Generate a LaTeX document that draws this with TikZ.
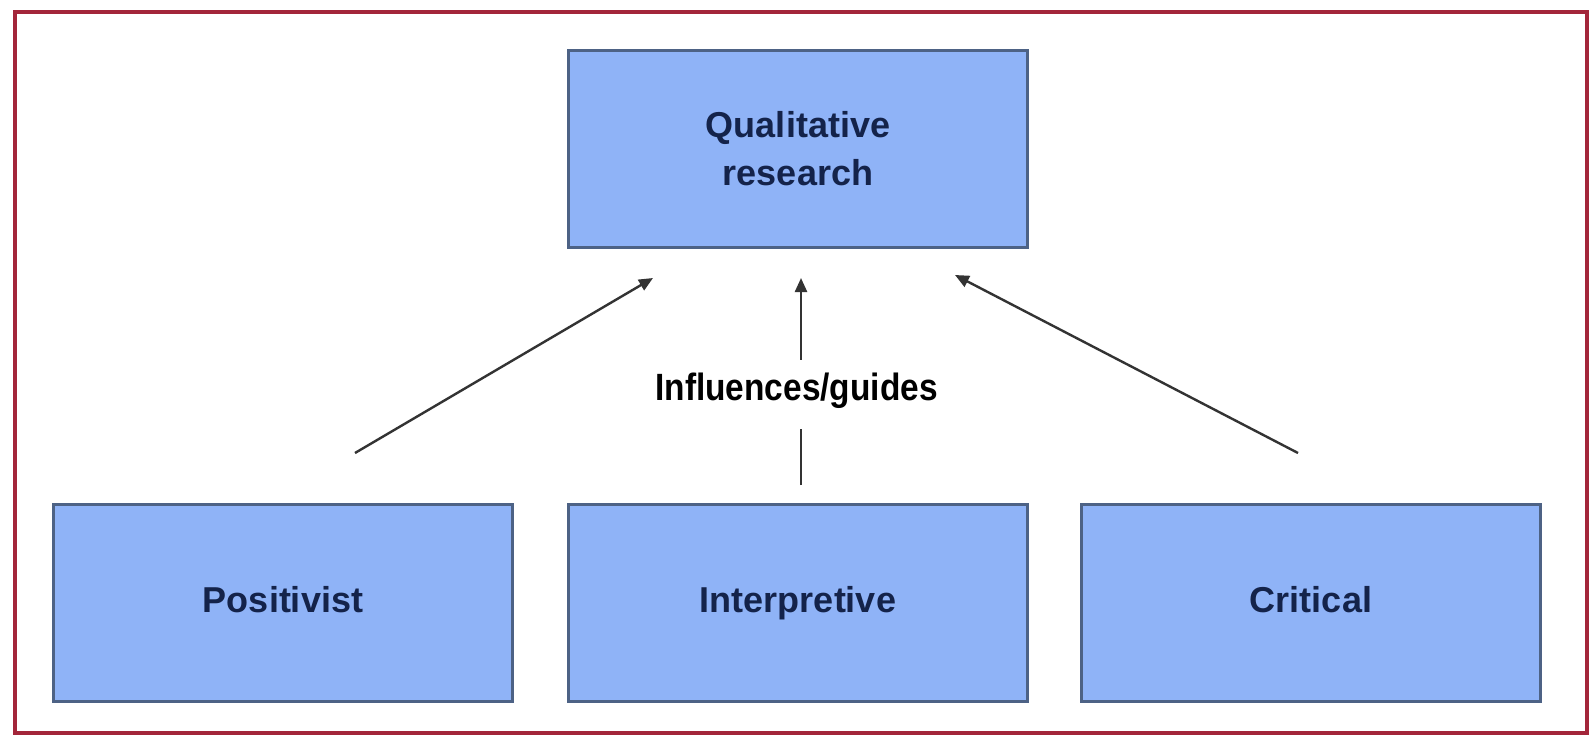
\documentclass[tikz,border=0pt]{standalone}
\usepackage{fontspec}
\setmainfont{Liberation Sans}
\usepackage{graphicx}
\usetikzlibrary{arrows.meta}
\definecolor{boxfill}{HTML}{8FB3F7}
\definecolor{boxline}{HTML}{4D6285}
\definecolor{boxtext}{HTML}{14234A}
\definecolor{framered}{HTML}{A3263A}
\definecolor{arrowgray}{HTML}{333333}
\tikzset{
  box/.style={draw=boxline, line width=1.5pt, fill=boxfill, rectangle,
    minimum width=229.5pt, minimum height=98.5pt, inner sep=0pt, outer sep=0pt,
    font=\fontsize{18}{24}\selectfont\bfseries, text=boxtext, align=center},
  oneline/.style={text height=9.5pt, text depth=0pt},
  infl/.style={-{Triangle[length=7pt,width=6pt]}, draw=arrowgray, line width=1.2pt},
  lbl/.style={fill=white, inner sep=0pt, text height=20pt, text depth=14.5pt,
    font=\fontsize{19}{22}\selectfont\bfseries, text=black}
}
\begin{document}
\begin{tikzpicture}[x=0.5pt,y=-0.5pt]
\useasboundingbox (0,0) rectangle (1591,739);
\fill[white] (0,0) rectangle (1591,739);
\draw[framered, line width=2pt] (15,12) rectangle (1587,733);

\node[box] (qr) at (798,148.5) {Qualitative\\research};
\node[box, oneline] (pos) at (283,602.5) {Positivist};
\node[box, oneline] (int) at (798,602.5) {Interpretive};
\node[box, oneline] (cri) at (1311,602.5) {Critical};

\coordinate (pS) at (355,453);
\coordinate (pT) at (653,278);
\coordinate (iS) at (801,485);
\coordinate (iT) at (801,278);
\coordinate (cS) at (1298,453);
\coordinate (cT) at (955,275);

\draw[infl] (pS) -- (pT);
\draw[infl] (iS) -- (iT);
\draw[infl] (cS) -- (cT);

\node[lbl, anchor=base] (lab) at (796.5,400) {\scalebox{0.88}[1]{Influences/guides}};
\end{tikzpicture}
\end{document}
